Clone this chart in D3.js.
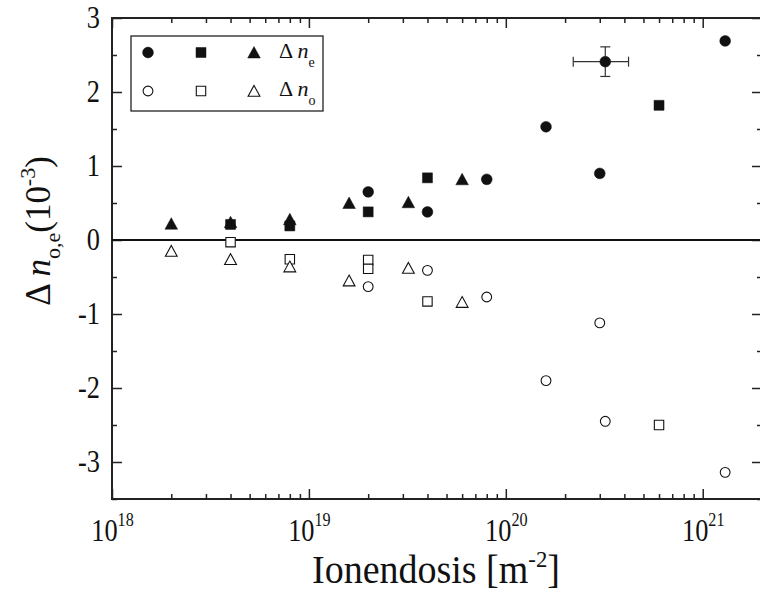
<!DOCTYPE html>
<html><head><meta charset="utf-8">
<script src="https://cdn.jsdelivr.net/npm/d3@7"></script>
<style>body{margin:0;background:#fff}svg{display:block}text{font-family:"Liberation Serif","Times New Roman",serif;fill:#111}</style>
</head><body>
<script>
// Δn_e (filled symbols)
const eCircleDose = [2e19, 4e19, 8e19, 1.6e20, 3e20, 3.2e20, 1.3e21];
const eCircleVal  = [0.65, 0.38, 0.82, 1.53, 0.90, 2.41, 2.69];
const eSquareDose = [4e18, 8e18, 2e19, 4e19, 6e20];
const eSquareVal  = [0.21, 0.19, 0.38, 0.84, 1.82];
const eTriDose    = [2e18, 4e18, 8e18, 1.6e19, 3.2e19, 6e19];
const eTriVal     = [0.22, 0.24, 0.28, 0.50, 0.51, 0.82];
// Δn_o (open symbols)
const oCircleDose = [2e19, 4e19, 8e19, 1.6e20, 3e20, 3.2e20, 1.3e21];
const oCircleVal  = [-0.63, -0.41, -0.77, -1.90, -1.12, -2.45, -3.14];
const oSquareDose = [4e18, 8e18, 2e19, 2e19, 4e19, 6e20];
const oSquareVal  = [-0.03, -0.26, -0.27, -0.39, -0.83, -2.50];
const oTriDose    = [2e18, 4e18, 8e18, 1.6e19, 3.2e19, 6e19];
const oTriVal     = [-0.15, -0.26, -0.36, -0.55, -0.38, -0.84];
// error bar on one point
const errDose = [3.2e20]; const errVal = [2.41];
const errDoseLo = [2.2e20]; const errDoseHi = [4.2e20];
const errValLo = [2.21]; const errValHi = [2.61];
// ticks
const xMajor = [1e18, 1e19, 1e20, 1e21];
const xMajorExp = ["18", "19", "20", "21"];
const xMinor = [];
[1e18, 1e19, 1e20].forEach(d => { for (let k = 2; k <= 9; k++) xMinor.push(k * d); });
xMinor.push(2e21);
const yMajor = [-3, -2, -1, 0, 1, 2, 3];
const yMajorLabels = ["-3", "-2", "-1", "0", "1", "2", "3"];
const yMinor = [-3.5, -2.5, -1.5, -0.5, 0.5, 1.5, 2.5];

const W = 760, H = 591;
const L = 112, T = 18, R = 762, B = 499;
const svg = d3.select("body").append("svg").attr("width", W).attr("height", H);
const x = d3.scaleLog().domain([1e18, 2e21]).range([L, R]);
const y = d3.scaleLinear().domain([-3.5, 3]).range([B, T]);

function styleAxis(g) {
  g.select(".domain").remove();
  g.selectAll(".tick line").attr("stroke", "#222").attr("stroke-width", 1.5);
}
// bottom
svg.append("g").attr("transform", `translate(0,${B})`)
  .call(d3.axisBottom(x).tickValues(xMinor).tickSize(-5).tickSizeOuter(0).tickFormat(""))
  .call(styleAxis);
const bx = svg.append("g").attr("transform", `translate(0,${B})`)
  .call(d3.axisBottom(x).tickValues(xMajor).tickSize(-10).tickSizeOuter(0).tickPadding(20).tickFormat(""))
  .call(styleAxis);
bx.selectAll(".tick text").each(function(d, i) {
  const t = d3.select(this).attr("font-size", 31).attr("text-anchor", "middle").attr("dy", "0.71em")
    .attr("transform", "scale(0.85,1)");
  t.append("tspan").text("10");
  t.append("tspan").attr("font-size", 19).attr("dy", "-0.78em").text(xMajorExp[i]);
});
// top
svg.append("g").attr("transform", `translate(0,${T})`)
  .call(d3.axisTop(x).tickValues(xMinor).tickSize(-5).tickSizeOuter(0).tickFormat(""))
  .call(styleAxis);
svg.append("g").attr("transform", `translate(0,${T})`)
  .call(d3.axisTop(x).tickValues(xMajor).tickSize(-10).tickSizeOuter(0).tickFormat(""))
  .call(styleAxis);
// left
svg.append("g").attr("transform", `translate(${L},0)`)
  .call(d3.axisLeft(y).tickValues(yMinor).tickSize(-5).tickSizeOuter(0).tickFormat(""))
  .call(styleAxis);
const ly = svg.append("g").attr("transform", `translate(${L},0)`)
  .call(d3.axisLeft(y).tickValues(yMajor).tickSize(-10).tickSizeOuter(0).tickPadding(12)
    .tickFormat((d, i) => yMajorLabels[i]))
  .call(styleAxis);
ly.selectAll(".tick text").attr("font-size", 31).attr("font-family", "Liberation Serif").attr("fill", "#111")
  .attr("x", 0).attr("transform", "translate(-12,0) scale(0.85,1)");
// right
svg.append("g").attr("transform", `translate(${R},0)`)
  .call(d3.axisRight(y).tickValues(yMinor).tickSize(-5).tickSizeOuter(0).tickFormat(""))
  .call(styleAxis);
svg.append("g").attr("transform", `translate(${R},0)`)
  .call(d3.axisRight(y).tickValues(yMajor).tickSize(-10).tickSizeOuter(0).tickFormat(""))
  .call(styleAxis);

// frame
svg.append("rect").attr("x", L).attr("y", T).attr("width", R - L).attr("height", B - T)
  .attr("fill", "none").attr("stroke", "#222").attr("stroke-width", 2);
// zero line
svg.append("line").attr("x1", L).attr("x2", R).attr("y1", y(0)).attr("y2", y(0))
  .attr("stroke", "#111").attr("stroke-width", 2);

// error bars
const eb = svg.append("g").attr("stroke", "#333").attr("stroke-width", 1.2);
errDose.forEach((d, i) => {
  const cx = x(d), cy = y(errVal[i]);
  eb.append("line").attr("x1", x(errDoseLo[i])).attr("x2", x(errDoseHi[i])).attr("y1", cy).attr("y2", cy);
  eb.append("line").attr("x1", x(errDoseLo[i])).attr("x2", x(errDoseLo[i])).attr("y1", cy - 5).attr("y2", cy + 5);
  eb.append("line").attr("x1", x(errDoseHi[i])).attr("x2", x(errDoseHi[i])).attr("y1", cy - 5).attr("y2", cy + 5);
  eb.append("line").attr("x1", cx).attr("x2", cx).attr("y1", y(errValLo[i])).attr("y2", y(errValHi[i]));
  eb.append("line").attr("x1", cx - 5).attr("x2", cx + 5).attr("y1", y(errValLo[i])).attr("y2", y(errValLo[i]));
  eb.append("line").attr("x1", cx - 5).attr("x2", cx + 5).attr("y1", y(errValHi[i])).attr("y2", y(errValHi[i]));
});

// marker shapes
const shapes = {
  circle: "M5.4,0A5.4,5.4 0 1,1 -5.4,0A5.4,5.4 0 1,1 5.4,0Z",
  square: "M-5,-5H5V5H-5Z",
  triangle: "M0,-6L6.3,5.5H-6.3Z",
  circleO: "M4.9,0A4.9,4.9 0 1,1 -4.9,0A4.9,4.9 0 1,1 4.9,0Z",
  squareO: "M-4.7,-4.7H4.7V4.7H-4.7Z",
  triangleO: "M0,-5.6L5.9,5.2H-5.9Z"
};
function plot(doses, vals, shape, filled) {
  svg.append("g").selectAll("path").data(doses).join("path")
    .attr("transform", (d, i) => `translate(${x(d)},${y(vals[i])})`)
    .attr("d", shapes[shape])
    .attr("fill", filled ? "#111" : "#fff")
    .attr("stroke", "#111").attr("stroke-width", filled ? 0.5 : 1.1);
}
plot(oCircleDose, oCircleVal, "circleO", false);
plot(oSquareDose, oSquareVal, "squareO", false);
plot(oTriDose, oTriVal, "triangleO", false);
plot(eTriDose, eTriVal, "triangle", true);
plot(eSquareDose, eSquareVal, "square", true);
plot(eCircleDose, eCircleVal, "circle", true);

// legend
const lg = svg.append("g");
lg.append("rect").attr("x", 131).attr("y", 36).attr("width", 192).attr("height", 75)
  .attr("fill", "#fff").attr("stroke", "#222").attr("stroke-width", 1.3);
const legRows = [
  {y: 52.5, shapes: ["circle", "square", "triangle"], filled: true, sub: "e"},
  {y: 91, shapes: ["circleO", "squareO", "triangleO"], filled: false, sub: "o"}
];
const legX = [148, 201, 254];
legRows.forEach(r => {
  r.shapes.forEach((s, j) => {
    lg.append("path").attr("transform", `translate(${legX[j]},${r.y})`).attr("d", shapes[s])
      .attr("fill", r.filled ? "#111" : "#fff").attr("stroke", "#111").attr("stroke-width", r.filled ? 0.5 : 1.1);
  });
  const t = lg.append("text").attr("x", 279).attr("y", r.y + 5).attr("font-size", 22);
  t.append("tspan").text("Δ ");
  t.append("tspan").attr("font-style", "italic").text("n");
  t.append("tspan").attr("font-size", 14).attr("dy", 9).text(r.sub);
});

// x title
const xt = svg.append("text").attr("transform", "translate(436,583) scale(0.95,1)")
  .attr("text-anchor", "middle").attr("font-size", 40);
xt.append("tspan").text("Ionendosis [m");
xt.append("tspan").attr("font-size", 24).attr("dy", -16).text("-2");
xt.append("tspan").attr("dy", 16).text("]");

// y title
const yt = svg.append("text").attr("transform", "translate(50,231) rotate(-90)")
  .attr("text-anchor", "middle").attr("font-size", 35);
yt.append("tspan").text("Δ ");
yt.append("tspan").attr("font-style", "italic").text("n");
yt.append("tspan").attr("font-size", 22).attr("dy", 10).text("o,e");
yt.append("tspan").attr("dy", -10).text("(10");
yt.append("tspan").attr("font-size", 22).attr("dy", -15).text("-3");
yt.append("tspan").attr("dy", 15).text(")");
</script>
</body></html>
